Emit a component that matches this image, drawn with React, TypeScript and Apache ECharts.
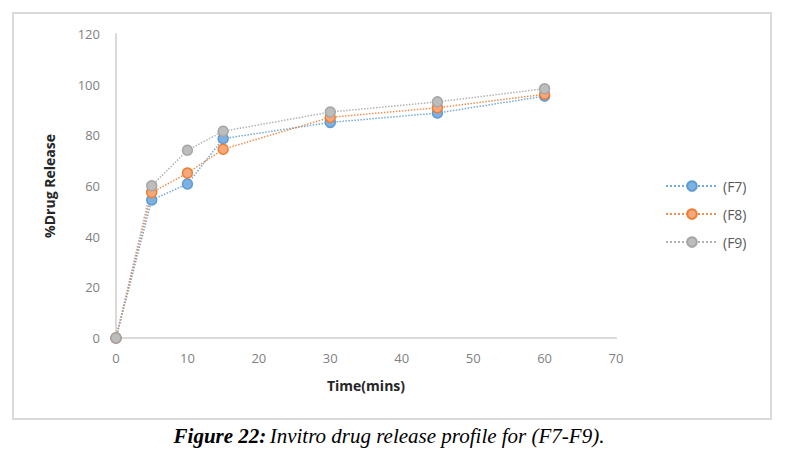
import React, { useEffect, useRef } from "react";
import * as echarts from "echarts";

const timePoints = [0, 5, 10, 15, 30, 45, 60];
const f7 = [0, 54.5, 60.8, 78.7, 85.1, 88.8, 95.5];
const f8 = [0, 57.4, 65.1, 74.5, 87.1, 90.9, 96.2];
const f9 = [0, 60.1, 74.1, 81.6, 89.2, 93.2, 98.4];
const seriesNames = ["(F7)", "(F8)", "(F9)"];
const seriesFill = ["#7eb1e0", "#f5a97a", "#bdbdbd"];
const seriesBorder = ["#5b9bd5", "#ed7d31", "#a5a5a5"];

export default function App() {
  const ref = useRef<HTMLDivElement>(null);
  useEffect(() => {
    if (!ref.current) return;
    const chart = echarts.init(ref.current, null, { renderer: "svg" });
    const datasets = [f7, f8, f9];
    chart.setOption({
      animation: false,
      backgroundColor: "#ffffff",
      textStyle: { fontFamily: "Open Sans" },
      grid: { left: 116, right: 178, top: 34, bottom: 120, containLabel: false },
      legend: {
        orient: "vertical",
        left: 660,
        top: 174,
        itemGap: 14,
        itemWidth: 52,
        itemHeight: 12,
        textStyle: { color: "#595959", fontSize: 14, fontFamily: "Open Sans" },
        data: seriesNames,
      },
      xAxis: {
        type: "value",
        min: 0,
        max: 70,
        interval: 10,
        name: "Time(mins)",
        nameLocation: "middle",
        nameGap: 40,
        nameTextStyle: { fontWeight: "bold", fontSize: 14, color: "#262626", fontFamily: "Open Sans" },
        axisLine: { show: true, lineStyle: { color: "#d9d9d9", width: 2 } },
        axisTick: { show: false },
        splitLine: { show: false },
        axisLabel: { color: "#7f7f7f", fontSize: 13, margin: 13 },
      },
      yAxis: {
        type: "value",
        min: 0,
        max: 120,
        interval: 20,
        name: "%Drug Release",
        nameLocation: "middle",
        nameGap: 60,
        nameTextStyle: { fontWeight: "bold", fontSize: 14, color: "#262626", fontFamily: "Open Sans" },
        axisLine: { show: true, lineStyle: { color: "#d9d9d9", width: 2 } },
        axisTick: { show: false },
        splitLine: { show: false },
        axisLabel: { color: "#7f7f7f", fontSize: 13, margin: 16 },
      },
      graphic: [
        {
          type: "rect",
          shape: { x: 13, y: 13, width: 758, height: 406 },
          style: { fill: "none", stroke: "#d9d9d9", lineWidth: 2 },
          silent: true,
        },
        {
          type: "text",
          x: 389,
          y: 436,
          style: {
            text: "{b|Figure 22:} {i|Invitro drug release profile for (F7-F9).}",
            align: "center",
            verticalAlign: "middle",
            rich: {
              b: { fontFamily: "Liberation Serif", fontStyle: "italic", fontWeight: "bold", fontSize: 21, fill: "#000" },
              i: { fontFamily: "Liberation Serif", fontStyle: "italic", fontSize: 21, fill: "#000" },
            },
          },
        },
      ],
      series: datasets.map((d, i) => ({
        name: seriesNames[i],
        type: "line",
        data: timePoints.map((t, j) => [t, d[j]]),
        symbol: "circle",
        symbolSize: 10,
        lineStyle: { type: "dotted", width: 1.5, color: seriesBorder[i], opacity: 0.85 },
        itemStyle: { color: seriesFill[i], borderColor: seriesBorder[i], borderWidth: 1.5 },
      })),
    });
    return () => chart.dispose();
  }, []);
  return (
    <div
      ref={ref}
      style={{ position: "fixed", left: 0, top: 0, width: 794, height: 458 }}
    />
  );
}
